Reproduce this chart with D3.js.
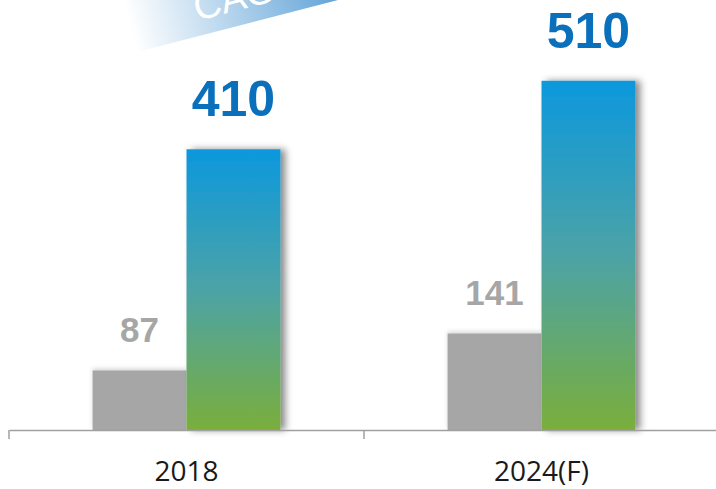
<!DOCTYPE html>
<html>
<head>
<meta charset="utf-8">
<script src="https://cdn.jsdelivr.net/npm/d3@7"></script>
<style>
  html, body { margin: 0; padding: 0; background: #fff; overflow: hidden; }
</style>
</head>
<body>
<div id="chart"></div>
<script>
const categories = ["2018", "2024(F)"]
const series = ["base", "total"]
const baseValues = [87, 141]
const totalValues = [410, 510]
const cagrLabel = "CAGR 3.7%"

const width = 716, height = 489
const baseline = 430

const svg = d3.select("#chart").append("svg")
    .attr("width", width)
    .attr("height", height)

const defs = svg.append("defs")

const grad = defs.append("linearGradient")
    .attr("id", "barGrad")
    .attr("x1", 0).attr("y1", 0).attr("x2", 0).attr("y2", 1)
grad.append("stop").attr("offset", "0%").attr("stop-color", "#0c98dd")
grad.append("stop").attr("offset", "50%").attr("stop-color", "#4ca3a6")
grad.append("stop").attr("offset", "100%").attr("stop-color", "#7aae3c")

const bannerGrad = defs.append("linearGradient")
    .attr("id", "bannerGrad")
    .attr("x1", 0).attr("y1", 0).attr("x2", 1).attr("y2", 0)
bannerGrad.append("stop").attr("offset", "0%").attr("stop-color", "#ffffff")
bannerGrad.append("stop").attr("offset", "100%").attr("stop-color", "#3a8dce")

const shadow = defs.append("filter")
    .attr("id", "shadow")
    .attr("x", "-20%").attr("y", "-20%").attr("width", "150%").attr("height", "140%")
shadow.append("feDropShadow")
    .attr("dx", 5).attr("dy", 0).attr("stdDeviation", 3.5)
    .attr("flood-color", "#000").attr("flood-opacity", 0.45)

const softShadow = defs.append("filter")
    .attr("id", "softShadow")
    .attr("x", "-20%").attr("y", "-20%").attr("width", "140%").attr("height", "140%")
softShadow.append("feDropShadow")
    .attr("dx", 0).attr("dy", -2).attr("stdDeviation", 2)
    .attr("flood-color", "#000").attr("flood-opacity", 0.15)

// CAGR banner, mostly cut off by the top edge
const banner = svg.append("g")
    .attr("transform", "translate(137,52) rotate(-14.5)")
banner.append("rect")
    .attr("x", 0).attr("y", -90)
    .attr("width", 260).attr("height", 90)
    .attr("fill", "url(#bannerGrad)")
banner.append("text")
    .attr("x", 66).attr("y", -15)
    .attr("fill", "#fff")
    .style("font-family", "'Liberation Sans', Arial, sans-serif")
    .style("font-size", "38px")
    .text(cagrLabel)

const x0 = d3.scaleBand()
    .domain(categories)
    .range([9, 719])
    .paddingInner(0)
    .paddingOuter(0)

const x1 = d3.scaleBand()
    .domain(series)
    .range([0, x0.bandwidth()])
    .paddingInner(0)
    .paddingOuter(0.89)

const y = d3.scaleLinear()
    .domain([0, 628])
    .range([baseline, 0])

const data = categories.map((c, i) => ({cat: c, base: baseValues[i], total: totalValues[i]}))

const groups = svg.selectAll(".group")
    .data(data)
    .enter().append("g")
    .attr("class", "group")
    .attr("transform", d => "translate(" + x0(d.cat) + ",0)")

groups.append("rect")
    .attr("x", x1("base"))
    .attr("y", d => y(d.base))
    .attr("width", x1.bandwidth())
    .attr("height", d => baseline - y(d.base))
    .attr("fill", "#a6a6a6")
    .attr("filter", "url(#softShadow)")

groups.append("rect")
    .attr("x", x1("total"))
    .attr("y", d => y(d.total))
    .attr("width", x1.bandwidth())
    .attr("height", d => baseline - y(d.total))
    .attr("fill", "url(#barGrad)")
    .attr("filter", "url(#shadow)")

groups.append("text")
    .attr("x", x1("base") + x1.bandwidth() / 2)
    .attr("y", d => y(d.base) - 28)
    .attr("text-anchor", "middle")
    .attr("fill", "#a6a6a6")
    .style("font-family", "'Liberation Sans', Arial, sans-serif")
    .style("font-weight", "bold")
    .style("font-size", "35px")
    .text(d => d.base)

groups.append("text")
    .attr("x", x1("total") + x1.bandwidth() / 2)
    .attr("y", d => y(d.total) - 33)
    .attr("text-anchor", "middle")
    .attr("fill", "#0a70bb")
    .style("font-family", "'Liberation Sans', Arial, sans-serif")
    .style("font-weight", "bold")
    .style("font-size", "50px")
    .text(d => d.total)

// axis: line with ticks at the category boundaries
const axis = svg.append("g")
    .attr("transform", "translate(0," + baseline + ")")
    .call(d3.axisBottom(x0).tickSize(0).tickFormat(""))
axis.select(".domain").attr("stroke", "#a0a0a0").attr("stroke-width", 1.5)
axis.selectAll(".boundary")
    .data(categories)
    .enter().append("line")
    .attr("class", "boundary")
    .attr("x1", d => x0(d)).attr("x2", d => x0(d))
    .attr("y1", 0).attr("y2", 9)
    .attr("stroke", "#a0a0a0").attr("stroke-width", 1.5)

svg.selectAll(".cat-label")
    .data(categories)
    .enter().append("text")
    .attr("class", "cat-label")
    .attr("x", d => x0(d) + x0.bandwidth() / 2)
    .attr("y", 481)
    .attr("text-anchor", "middle")
    .attr("fill", "#1a1a1a")
    .style("font-family", "'Open Sans', 'Noto Sans', sans-serif")
    .style("font-size", "28px")
    .text(d => d)
</script>
</body>
</html>
